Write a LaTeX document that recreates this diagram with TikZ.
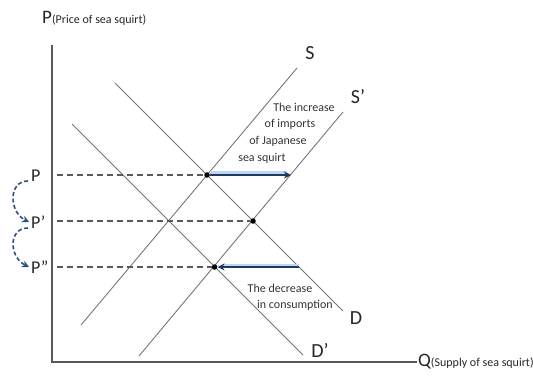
\documentclass[tikz,border=0pt]{standalone}
\usepackage{fontspec}
\setmainfont{Carlito}
\usetikzlibrary{arrows.meta, positioning}

\definecolor{achsgrau}{HTML}{595959}
\definecolor{liniengrau}{HTML}{767676}
\definecolor{pfeilblau}{HTML}{1F3864}
\definecolor{glanzblau}{HTML}{BDD7EE}
\definecolor{bogenblau}{HTML}{2B5283}

\begin{document}
\begin{tikzpicture}[x=1pt, y=-1pt,
	kurve/.style={liniengrau, line width=0.9pt},
	hilfslinie/.style={achsgrau, dash pattern=on 6pt off 4pt, line width=1.1pt},
	punkt/.style={circle, fill=black, inner sep=0pt, minimum size=5.5pt},
	schild/.style={font=\fontsize{20}{22}\selectfont, text=black!85, inner sep=1pt},
	preis/.style={font=\fontsize{18}{20}\selectfont, text=black!85, inner sep=1pt, anchor=west},
	notiz/.style={font=\fontsize{12}{14}\selectfont, text=black!80, inner sep=0pt},
	verschiebung/.style={pfeilblau, line width=1.7pt, -{Stealth[length=7pt, width=7pt]}},
	glanz/.style={glanzblau, line width=4pt},
	bogenpfeil/.style={bogenblau, line width=1.6pt, dash pattern=on 4pt off 2.5pt, -{Stealth[length=7pt, width=7pt]}}
	]
	\useasboundingbox (0,0) rectangle (533,377);
	
	% Koordinatensystem
	\coordinate (ursprung) at (52,362);
	\coordinate (poben) at (52,45);
	\coordinate (qrechts) at (417,362);
	\draw[achsgrau, line width=1.2pt] (poben) -- (ursprung) -- (qrechts);
	\node[anchor=west, inner sep=0pt, text=black!85] (pachse) at (42,18)
		{\fontsize{19}{21}\selectfont P\fontsize{12}{14}\selectfont(Price of sea squirt)};
	\node[anchor=west, inner sep=0pt, text=black!85] (qachse) at (418,362)
		{\fontsize{19}{21}\selectfont Q\fontsize{12}{14}\selectfont(Supply of sea squirt)};
	
	% Angebot und Nachfrage
	\coordinate (s1) at (81,325);   \coordinate (s2) at (297,68);
	\coordinate (t1) at (139,356);  \coordinate (t2) at (343,112);
	\coordinate (d1) at (115,83);   \coordinate (d2) at (343,311);
	\coordinate (e1) at (72,124);   \coordinate (e2) at (303,355);
	\draw[kurve] (s1) -- (s2);
	\draw[kurve] (t1) -- (t2);
	\draw[kurve] (d1) -- (d2);
	\draw[kurve] (e1) -- (e2);
	\node[schild] (lsa) at (310,53) {S};
	\node[schild] (lsb) at (358,97) {S’};
	\node[schild] (lda) at (356,318) {D};
	\node[schild] (ldb) at (320,350) {D’};
	
	% Gleichgewichtspunkte
	\node[punkt] (g1) at (207,175) {};
	\node[punkt] (g2) at (253,221) {};
	\node[punkt] (g3) at (214.6,267) {};
	
	% Preise
	\node[preis] (lp1) at (30,176) {P};
	\node[preis] (lp2) at (30,222) {P’};
	\node[preis] (lp3) at (30,267) {P”};
	\coordinate (h1) at (57,175);
	\coordinate (h2) at (57,221);
	\coordinate (h3) at (57,267);
	\draw[hilfslinie] (h1) -- (g1);
	\draw[hilfslinie] (h2) -- (g2);
	\draw[hilfslinie] (h3) -- (g3);
	\draw[bogenpfeil] ([xshift=-2pt, yshift=-5pt]lp1.west) .. controls +(-20,0) and +(-20,-10) .. ([xshift=-1pt]lp2.west);
	\draw[bogenpfeil] ([xshift=-2pt, yshift=-6pt]lp2.west) .. controls +(-20,0) and +(-20,-10) .. ([xshift=-1pt]lp3.west);
	
	% Verschiebungen
	\coordinate (a1) at (291,175);
	\coordinate (a2) at (298.6,267);
	\draw[glanz] ([yshift=1.5pt]g1.east) -- ([xshift=-4pt, yshift=1.5pt]a1);
	\draw[glanz] ([yshift=1.5pt]a2) -- ([xshift=4pt, yshift=1.5pt]g3.east);
	\draw[verschiebung] (g1) -- (a1);
	\draw[verschiebung] (a2) -- (g3);
	
	% Beschriftungen
	\node[notiz] (n1) at (304,107) {The increase};
	\node[notiz] (n2) at (290,124) {of imports};
	\node[notiz] (n3) at (278,141) {of Japanese};
	\node[notiz] (n4) at (262,158) {sea squirt};
	\node[notiz] (n5) at (280,288) {The decrease};
	\node[notiz] (n6) at (295,305) {in consumption};
\end{tikzpicture}
\end{document}
